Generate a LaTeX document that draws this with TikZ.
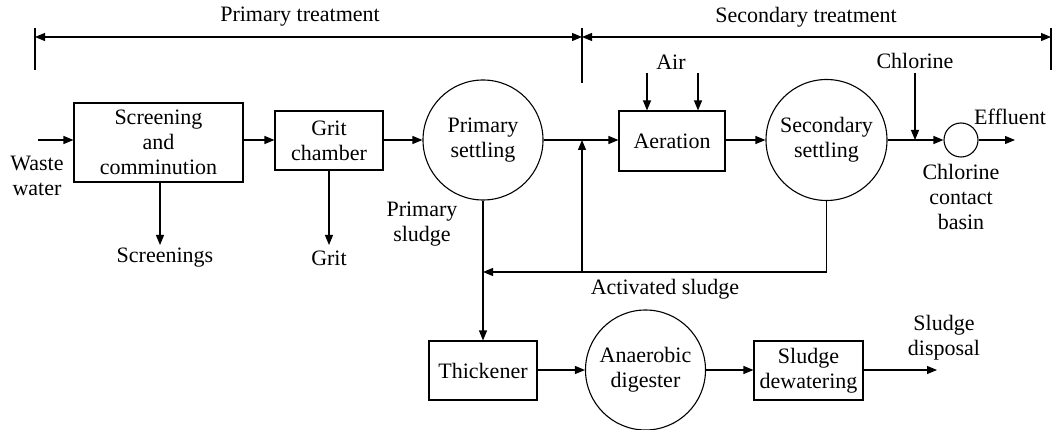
\documentclass[tikz,border=0pt]{standalone}
\usepackage{fontspec}
\setmainfont{Liberation Serif}
\usetikzlibrary{arrows.meta}
\begin{document}
\begin{tikzpicture}[x=1pt,y=-1pt,
  font=\fontsize{22}{25}\selectfont,
  line width=1.1pt,
  box/.style={draw, rectangle, inner sep=0pt, align=center},
  tank/.style={draw, circle, inner sep=0pt, align=center},
  lbl/.style={inner sep=0pt, align=center},
  flow/.style={-{Triangle[length=10pt,width=8pt]}},
  span/.style={{Triangle[length=10pt,width=8pt]}-{Triangle[length=10pt,width=8pt]}}]
\useasboundingbox (0,0) rectangle (1052,430);

% treatment brackets
\coordinate (b1t) at (35,28);  \coordinate (b1b) at (35,70);  \coordinate (b1m) at (35,37);
\coordinate (b2t) at (582,28); \coordinate (b2b) at (582,83); \coordinate (b2m) at (582,37);
\coordinate (b3t) at (1051,28); \coordinate (b3b) at (1051,70); \coordinate (b3m) at (1051,37);
\draw (b1t) -- (b1b);
\draw (b2t) -- (b2b);
\draw (b3t) -- (b3b);
\draw[span] (b1m) -- (b2m);
\draw[span] (b2m) -- (b3m);
\node[lbl] (tprim) at (300,17) {Primary treatment};
\node[lbl] (tsec) at (806,17) {Secondary treatment};

% main units
\node[box, minimum width=169pt, minimum height=79pt] (sc) at (158.5,142.5) {Screening\\and\\comminution};
\node[box, minimum width=108pt, minimum height=59pt] (grit) at (329,140.5) {Grit\\chamber};
\node[tank, minimum size=120pt] (ps) at (483,140) {Primary\\settling};
\node[box, minimum width=106pt, minimum height=60pt] (aer) at (672,141) {Aeration};
\node[tank, minimum size=121pt] (ss) at (826.5,140) {Secondary\\settling};
\node[tank, minimum size=34pt] (cb) at (961,140) {};
\node[box, minimum width=108pt, minimum height=59pt] (thick) at (483,370.5) {Thickener};
\node[tank, minimum size=120pt] (dig) at (645.5,370) {Anaerobic\\digester};
\node[box, minimum width=109pt, minimum height=59pt] (dew) at (808.5,370.5) {Sludge\\dewatering};

% labels
\node[lbl] (ww) at (37,175.5) {Waste\\water};
\node[lbl] (scr) at (165,258) {Screenings};
\node[lbl] (gr) at (329,258) {Grit};
\node[lbl] (psl) at (422,224.5) {Primary\\sludge};
\node[lbl] (air) at (671,62) {Air};
\node[lbl] (cl) at (915,61) {Chlorine};
\node[lbl] (eff) at (1010,117) {Effluent};
\node[lbl] (ccb) at (961,197) {Chlorine\\contact\\basin};
\node[lbl] (act) at (665,289) {Activated sludge};
\node[lbl] (sd) at (944,338) {Sludge\\disposal};

% coordinates
\coordinate (row) at (0,140);
\coordinate (win) at (38,140);
\coordinate (scrT) at (160,245);
\coordinate (grT) at (329,245);
\coordinate (a1) at (647,73);
\coordinate (a2) at (698,73);
\coordinate (clS) at (915,73);
\coordinate (clT) at (915,140);
\coordinate (effT) at (1015,140);
\coordinate (ret1) at (826.5,272);
\coordinate (ret2) at (483,272);
\coordinate (rec1) at (582,272);
\coordinate (rec2) at (582,140);
\coordinate (sdT) at (937,370);

% connectors
\draw[flow] (win) -- (sc.west |- row);
\draw[flow] (sc.east |- row) -- (grit.west |- row);
\draw[flow] (grit.east |- row) -- (ps.west);
\draw[flow] (ps.east) -- (aer.west |- row);
\draw[flow] (aer.east |- row) -- (ss.west);
\draw[flow] (ss.east) -- (cb.west);
\draw[flow] (cb.east) -- (effT);
\draw[flow] (sc.south -| scrT) -- (scrT);
\draw[flow] (grit.south) -- (grT);
\draw[flow] (a1) -- (a1 |- aer.north);
\draw[flow] (a2) -- (a2 |- aer.north);
\draw[flow] (clS) -- (clT);
\draw[flow] (ps.south) -- (thick.north);
\draw[flow] (ss.south) -- (ret1) -- (ret2);
\draw[flow] (rec1) -- (rec2);
\draw[flow] (thick.east |- dig.west) -- (dig.west);
\draw[flow] (dig.east) -- (dew.west |- dig.east);
\draw[flow] (dew.east |- sdT) -- (sdT);
\end{tikzpicture}
\end{document}
